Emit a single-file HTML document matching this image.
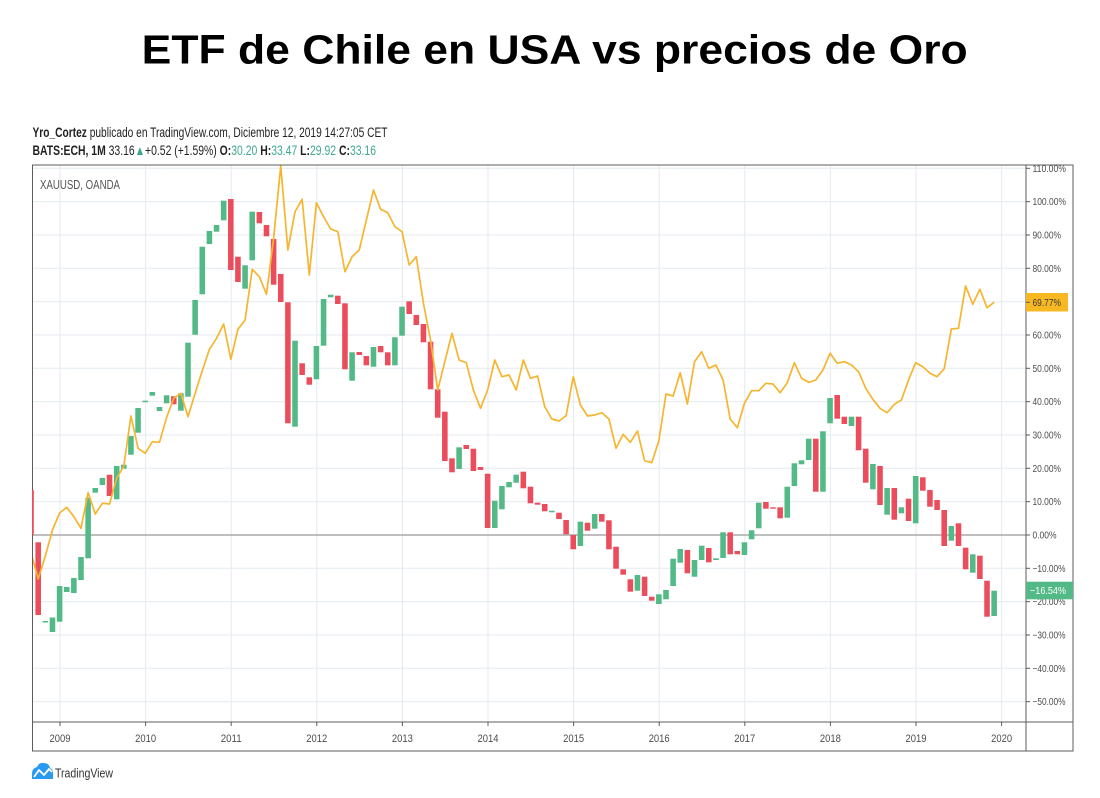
<!DOCTYPE html>
<html>
<head>
<meta charset="utf-8">
<style>
html,body{margin:0;padding:0;background:#fff;}
svg{display:block;}
</style>
</head>
<body>
<svg width="1100" height="798" viewBox="0 0 1100 798" xmlns="http://www.w3.org/2000/svg">
<defs>
<clipPath id="plot"><rect x="32.5" y="165" width="993.5" height="557"/></clipPath>
<clipPath id="axis"><rect x="1026" y="165" width="47" height="557"/></clipPath>
</defs>
<rect width="1100" height="798" fill="#fff"/>

<!-- Title -->
<text x="141.7" y="63.3" font-family="Liberation Sans, sans-serif" font-weight="bold" font-size="41" fill="#000" textLength="826" lengthAdjust="spacingAndGlyphs">ETF de Chile en USA vs precios de Oro</text>

<!-- Header -->
<text x="32.5" y="137" font-family="Liberation Sans, sans-serif" font-size="13.5" fill="#222" textLength="355" lengthAdjust="spacingAndGlyphs"><tspan font-weight="bold">Yro_Cortez</tspan> publicado en TradingView.com, Diciembre 12, 2019 14:27:05 CET</text>
<text x="32.5" y="155" font-family="Liberation Sans, DejaVu Sans, sans-serif" font-size="13.5" fill="#222" textLength="343.5" lengthAdjust="spacingAndGlyphs"><tspan font-weight="bold">BATS:ECH, 1M</tspan> 33.16<tspan fill="#3fa98f">▲</tspan>+0.52 (+1.59%) <tspan font-weight="bold">O:</tspan><tspan fill="#3fa98f">30.20</tspan> <tspan font-weight="bold">H:</tspan><tspan fill="#3fa98f">33.47</tspan> <tspan font-weight="bold">L:</tspan><tspan fill="#3fa98f">29.92</tspan> <tspan font-weight="bold">C:</tspan><tspan fill="#3fa98f">33.16</tspan></text>

<!-- Grid -->
<g stroke="#e4eaef" stroke-width="1">
<line x1="32.5" x2="1026" y1="168.3" y2="168.3"/>
<line x1="32.5" x2="1026" y1="201.7" y2="201.7"/>
<line x1="32.5" x2="1026" y1="235" y2="235"/>
<line x1="32.5" x2="1026" y1="268.3" y2="268.3"/>
<line x1="32.5" x2="1026" y1="301.7" y2="301.7"/>
<line x1="32.5" x2="1026" y1="335" y2="335"/>
<line x1="32.5" x2="1026" y1="368.3" y2="368.3"/>
<line x1="32.5" x2="1026" y1="401.7" y2="401.7"/>
<line x1="32.5" x2="1026" y1="435" y2="435"/>
<line x1="32.5" x2="1026" y1="468.3" y2="468.3"/>
<line x1="32.5" x2="1026" y1="501.7" y2="501.7"/>
<line x1="32.5" x2="1026" y1="568.3" y2="568.3"/>
<line x1="32.5" x2="1026" y1="601.7" y2="601.7"/>
<line x1="32.5" x2="1026" y1="635" y2="635"/>
<line x1="32.5" x2="1026" y1="668.3" y2="668.3"/>
<line x1="32.5" x2="1026" y1="701.7" y2="701.7"/>
<line x1="60" x2="60" y1="165" y2="722"/>
<line x1="145.6" x2="145.6" y1="165" y2="722"/>
<line x1="231.2" x2="231.2" y1="165" y2="722"/>
<line x1="316.8" x2="316.8" y1="165" y2="722"/>
<line x1="402.4" x2="402.4" y1="165" y2="722"/>
<line x1="488" x2="488" y1="165" y2="722"/>
<line x1="573.6" x2="573.6" y1="165" y2="722"/>
<line x1="659.2" x2="659.2" y1="165" y2="722"/>
<line x1="744.8" x2="744.8" y1="165" y2="722"/>
<line x1="830.4" x2="830.4" y1="165" y2="722"/>
<line x1="916" x2="916" y1="165" y2="722"/>
<line x1="1001.6" x2="1001.6" y1="165" y2="722"/>
</g>
<line x1="32.5" x2="1026" y1="535" y2="535" stroke="#a9a9a9" stroke-width="1.5"/>

<text x="40" y="189" font-family="Liberation Sans, sans-serif" font-size="12.5" fill="#555" textLength="80" lengthAdjust="spacingAndGlyphs">XAUUSD, OANDA</text>

<!-- Series -->
<g clip-path="url(#plot)">
<g transform="translate(59.6,0) scale(7.134,1)">
<g fill="#eb4d5c">
<rect x="-3.39" y="542.3" width="0.78" height="72.7"/>
<rect x="6.61" y="474.7" width="0.78" height="21.3"/>
<rect x="15.61" y="396.3" width="0.78" height="8"/>
<rect x="23.61" y="199" width="0.78" height="71"/>
<rect x="24.61" y="256.7" width="0.78" height="25.3"/>
<rect x="27.61" y="212" width="0.78" height="11.3"/>
<rect x="28.61" y="225" width="0.78" height="11.3"/>
<rect x="29.61" y="239" width="0.78" height="45.7"/>
<rect x="30.61" y="274" width="0.78" height="28"/>
<rect x="31.61" y="302.3" width="0.78" height="121"/>
<rect x="33.61" y="363.3" width="0.78" height="11.7"/>
<rect x="34.61" y="377.3" width="0.78" height="7.4"/>
<rect x="38.61" y="295.7" width="0.78" height="8.3"/>
<rect x="39.61" y="303.3" width="0.78" height="66"/>
<rect x="41.61" y="352" width="0.78" height="3"/>
<rect x="42.61" y="356" width="0.78" height="9.3"/>
<rect x="44.61" y="346" width="0.78" height="6.3"/>
<rect x="45.61" y="352.3" width="0.78" height="13"/>
<rect x="48.61" y="301.3" width="0.78" height="12.7"/>
<rect x="49.61" y="315" width="0.78" height="10"/>
<rect x="50.61" y="324" width="0.78" height="18.3"/>
<rect x="51.61" y="341.7" width="0.78" height="47.6"/>
<rect x="52.61" y="389.3" width="0.78" height="28.4"/>
<rect x="53.61" y="411.7" width="0.78" height="49.3"/>
<rect x="54.61" y="458.3" width="0.78" height="14"/>
<rect x="56.61" y="445" width="0.78" height="4"/>
<rect x="57.61" y="448.7" width="0.78" height="22.3"/>
<rect x="58.61" y="467" width="0.78" height="3"/>
<rect x="59.61" y="473.7" width="0.78" height="54.3"/>
<rect x="64.61" y="471.7" width="0.78" height="16.6"/>
<rect x="65.61" y="486.7" width="0.78" height="16.6"/>
<rect x="66.61" y="502.7" width="0.78" height="2"/>
<rect x="67.61" y="504" width="0.78" height="7.3"/>
<rect x="69.61" y="512.7" width="0.78" height="6.3"/>
<rect x="70.61" y="520" width="0.78" height="14.3"/>
<rect x="71.61" y="535" width="0.78" height="14.3"/>
<rect x="73.61" y="522.7" width="0.78" height="8"/>
<rect x="75.61" y="514" width="0.78" height="7.7"/>
<rect x="76.61" y="520.3" width="0.78" height="29"/>
<rect x="77.61" y="546.7" width="0.78" height="22"/>
<rect x="78.61" y="569.3" width="0.78" height="5.4"/>
<rect x="79.61" y="579.3" width="0.78" height="12.4"/>
<rect x="81.61" y="576.7" width="0.78" height="19.3"/>
<rect x="82.61" y="596.7" width="0.78" height="4"/>
<rect x="87.61" y="550" width="0.78" height="23.3"/>
<rect x="90.61" y="548" width="0.78" height="14.3"/>
<rect x="93.61" y="532.3" width="0.78" height="22"/>
<rect x="94.61" y="551" width="0.78" height="3.3"/>
<rect x="98.61" y="502" width="0.78" height="6.7"/>
<rect x="99.61" y="507.3" width="0.78" height="1.4"/>
<rect x="100.61" y="507.3" width="0.78" height="11"/>
<rect x="105.61" y="438.7" width="0.78" height="53"/>
<rect x="108.61" y="395" width="0.78" height="23.7"/>
<rect x="109.61" y="416.7" width="0.78" height="7.3"/>
<rect x="111.61" y="416.7" width="0.78" height="33.6"/>
<rect x="112.61" y="448.7" width="0.78" height="34"/>
<rect x="114.61" y="466" width="0.78" height="39"/>
<rect x="116.61" y="488" width="0.78" height="31.7"/>
<rect x="118.61" y="498.7" width="0.78" height="22.3"/>
<rect x="120.61" y="477.3" width="0.78" height="13.4"/>
<rect x="121.61" y="490" width="0.78" height="16.7"/>
<rect x="122.61" y="500" width="0.78" height="10"/>
<rect x="123.61" y="510" width="0.78" height="36"/>
<rect x="125.61" y="523.3" width="0.78" height="22.7"/>
<rect x="126.61" y="547.7" width="0.78" height="21.6"/>
<rect x="128.61" y="555.7" width="0.78" height="23.3"/>
<rect x="129.61" y="580.7" width="0.78" height="36"/>
</g>
<g fill="#53b987">
<rect x="-2.39" y="621" width="0.78" height="1.5"/>
<rect x="-1.39" y="617.5" width="0.78" height="14.5"/>
<rect x="-0.39" y="586" width="0.78" height="35.7"/>
<rect x="0.61" y="587" width="0.78" height="5"/>
<rect x="1.61" y="578" width="0.78" height="15"/>
<rect x="2.61" y="557" width="0.78" height="23"/>
<rect x="3.61" y="497.7" width="0.78" height="60.6"/>
<rect x="4.61" y="488" width="0.78" height="4.7"/>
<rect x="5.61" y="478" width="0.78" height="7"/>
<rect x="7.61" y="466" width="0.78" height="33.3"/>
<rect x="8.61" y="464.7" width="0.78" height="4"/>
<rect x="9.61" y="436" width="0.78" height="18.7"/>
<rect x="10.61" y="408" width="0.78" height="24.7"/>
<rect x="11.61" y="400.7" width="0.78" height="1.5"/>
<rect x="12.61" y="392" width="0.78" height="3.7"/>
<rect x="13.61" y="407" width="0.78" height="4"/>
<rect x="14.61" y="395.3" width="0.78" height="8"/>
<rect x="16.61" y="393.3" width="0.78" height="17.4"/>
<rect x="17.61" y="342.7" width="0.78" height="54"/>
<rect x="18.61" y="300" width="0.78" height="34.7"/>
<rect x="19.61" y="246.7" width="0.78" height="47.6"/>
<rect x="20.61" y="231" width="0.78" height="13"/>
<rect x="21.61" y="225" width="0.78" height="6.7"/>
<rect x="22.61" y="200.7" width="0.78" height="19.6"/>
<rect x="25.61" y="265.3" width="0.78" height="23.4"/>
<rect x="26.61" y="211.7" width="0.78" height="48.6"/>
<rect x="32.61" y="340.7" width="0.78" height="86"/>
<rect x="35.61" y="346" width="0.78" height="33.3"/>
<rect x="36.61" y="299" width="0.78" height="46.7"/>
<rect x="37.61" y="294.7" width="0.78" height="2.6"/>
<rect x="40.61" y="352.3" width="0.78" height="28.4"/>
<rect x="43.61" y="347" width="0.78" height="19.7"/>
<rect x="46.61" y="337.3" width="0.78" height="28"/>
<rect x="47.61" y="306.7" width="0.78" height="29"/>
<rect x="55.61" y="447.3" width="0.78" height="21.7"/>
<rect x="60.61" y="500.7" width="0.78" height="27.3"/>
<rect x="61.61" y="486" width="0.78" height="23.3"/>
<rect x="62.61" y="482" width="0.78" height="5.3"/>
<rect x="63.61" y="474.7" width="0.78" height="8"/>
<rect x="68.61" y="510.7" width="0.78" height="1.6"/>
<rect x="72.61" y="521.7" width="0.78" height="24.3"/>
<rect x="74.61" y="514" width="0.78" height="14.7"/>
<rect x="80.61" y="575" width="0.78" height="15.7"/>
<rect x="83.61" y="594.3" width="0.78" height="9.7"/>
<rect x="84.61" y="590" width="0.78" height="9.3"/>
<rect x="85.61" y="558.7" width="0.78" height="27.3"/>
<rect x="86.61" y="549" width="0.78" height="13.7"/>
<rect x="88.61" y="560" width="0.78" height="16.7"/>
<rect x="89.61" y="545.7" width="0.78" height="14.3"/>
<rect x="91.61" y="558.3" width="0.78" height="1.7"/>
<rect x="92.61" y="532.3" width="0.78" height="25.7"/>
<rect x="95.61" y="542.3" width="0.78" height="12.7"/>
<rect x="96.61" y="530.3" width="0.78" height="9"/>
<rect x="97.61" y="502.7" width="0.78" height="25.6"/>
<rect x="101.61" y="486.7" width="0.78" height="31"/>
<rect x="102.61" y="463.3" width="0.78" height="22.7"/>
<rect x="103.61" y="460.3" width="0.78" height="4"/>
<rect x="104.61" y="438.7" width="0.78" height="21.3"/>
<rect x="106.61" y="431.3" width="0.78" height="60.4"/>
<rect x="107.61" y="398" width="0.78" height="25.3"/>
<rect x="110.61" y="416.7" width="0.78" height="9.3"/>
<rect x="113.61" y="464" width="0.78" height="25.3"/>
<rect x="115.61" y="488" width="0.78" height="26.7"/>
<rect x="117.61" y="507.3" width="0.78" height="6"/>
<rect x="119.61" y="476" width="0.78" height="47.3"/>
<rect x="124.61" y="526" width="0.78" height="14.7"/>
<rect x="127.61" y="554.3" width="0.78" height="18.4"/>
<rect x="130.61" y="590.7" width="0.78" height="25.3"/>
</g>
<polyline fill="none" stroke="#f6b530" stroke-width="1.7" stroke-linejoin="round" vector-effect="non-scaling-stroke" points="-4,553 -3,579 -2,556 -1,530 0,513 1,507.3 2,516.7 3,528.3 4,492.5 5,514 6,503.3 7,504 8,478.3 9,466 10,416 11,448.3 12,453.3 13,441.7 14,442.3 15,417.3 16,398.3 17,393.3 18,416.7 19,393.3 20,370.7 21,349.3 22,338.3 23,324 24,359.3 25,329.3 26,320 27,269.3 28,276.7 29,294.3 30,238 31,166 32,250 33,211.7 34,199.3 35,275 36,202.7 37,216.7 38,229 39,231.7 40,271.7 41,256.7 42,250 43,220 44,190 45,209.3 46,212.7 47,226.7 48,231.7 49,265 50,256.7 51,303.3 52,340 53,390 54,361.7 55,333.3 56,360 57,362.7 58,390 59,408.3 60,390 61,360 62,376.7 63,375 64,390 65,360 66,378.3 67,376 68,406.7 69,419 70,421 71,415.7 72,376.7 73,405 74,416 75,415 76,412.7 77,419 78,448.3 79,434.3 80,442.3 81,431 82,460.7 83,462.7 84,440.7 85,394 86,396 87,372.7 88,404 89,361.7 90,351.7 91,368.3 92,365 93,380 94,419 95,427.7 96,403.3 97,390.7 98,390.7 99,383.3 100,384 101,392.7 102,382.7 103,362.7 104,378.3 105,382.3 106,380 107,370 108,353.3 109,363.3 110,361.7 111,365 112,371.7 113,388.3 114,399.3 115,408.3 116,412.7 117,404.3 118,400 119,380 120,362.7 121,366.7 122,373.3 123,376.7 124,368.7 125,329 126,328.3 127,286 128,304.3 129,289.3 130,307.7 131,302.3"/>
</g>
</g>

<!-- Frame -->
<g stroke="#5c5c5c" stroke-width="1" fill="none">
<rect x="32.5" y="165" width="1040.5" height="586"/>
<line x1="1026" x2="1026" y1="165" y2="751"/>
<line x1="32.5" x2="1073" y1="722" y2="722"/>
</g>
<!-- partial first candle over left edge -->
<rect x="32" y="490" width="1.8" height="45" fill="#eb4d5c"/>

<!-- Price axis ticks & labels -->
<g clip-path="url(#axis)">
<g stroke="#5c5c5c" stroke-width="1">
<line x1="1026" x2="1030" y1="168.3" y2="168.3"/>
<line x1="1026" x2="1030" y1="201.7" y2="201.7"/>
<line x1="1026" x2="1030" y1="235" y2="235"/>
<line x1="1026" x2="1030" y1="268.3" y2="268.3"/>
<line x1="1026" x2="1030" y1="301.7" y2="301.7"/>
<line x1="1026" x2="1030" y1="335" y2="335"/>
<line x1="1026" x2="1030" y1="368.3" y2="368.3"/>
<line x1="1026" x2="1030" y1="401.7" y2="401.7"/>
<line x1="1026" x2="1030" y1="435" y2="435"/>
<line x1="1026" x2="1030" y1="468.3" y2="468.3"/>
<line x1="1026" x2="1030" y1="501.7" y2="501.7"/>
<line x1="1026" x2="1030" y1="535" y2="535"/>
<line x1="1026" x2="1030" y1="568.3" y2="568.3"/>
<line x1="1026" x2="1030" y1="601.7" y2="601.7"/>
<line x1="1026" x2="1030" y1="635" y2="635"/>
<line x1="1026" x2="1030" y1="668.3" y2="668.3"/>
<line x1="1026" x2="1030" y1="701.7" y2="701.7"/>
</g>
<g font-family="Liberation Sans, sans-serif" font-size="10" fill="#4d4d4d">
<text x="1032.5" y="171.8" textLength="33.5" lengthAdjust="spacingAndGlyphs">110.00%</text>
<text x="1032.5" y="205.2" textLength="33.5" lengthAdjust="spacingAndGlyphs">100.00%</text>
<text x="1032.5" y="238.5" textLength="28.5" lengthAdjust="spacingAndGlyphs">90.00%</text>
<text x="1032.5" y="271.8" textLength="28.5" lengthAdjust="spacingAndGlyphs">80.00%</text>
<text x="1032.5" y="338.5" textLength="28.5" lengthAdjust="spacingAndGlyphs">60.00%</text>
<text x="1032.5" y="371.8" textLength="28.5" lengthAdjust="spacingAndGlyphs">50.00%</text>
<text x="1032.5" y="405.2" textLength="28.5" lengthAdjust="spacingAndGlyphs">40.00%</text>
<text x="1032.5" y="438.5" textLength="28.5" lengthAdjust="spacingAndGlyphs">30.00%</text>
<text x="1032.5" y="471.8" textLength="28.5" lengthAdjust="spacingAndGlyphs">20.00%</text>
<text x="1032.5" y="505.2" textLength="28.5" lengthAdjust="spacingAndGlyphs">10.00%</text>
<text x="1032.5" y="538.5" textLength="24" lengthAdjust="spacingAndGlyphs">0.00%</text>
<text x="1032.5" y="571.8" textLength="33" lengthAdjust="spacingAndGlyphs">−10.00%</text>
<text x="1032.5" y="605.2" textLength="33" lengthAdjust="spacingAndGlyphs">−20.00%</text>
<text x="1032.5" y="638.5" textLength="33" lengthAdjust="spacingAndGlyphs">−30.00%</text>
<text x="1032.5" y="671.8" textLength="33" lengthAdjust="spacingAndGlyphs">−40.00%</text>
<text x="1032.5" y="705.2" textLength="33" lengthAdjust="spacingAndGlyphs">−50.00%</text>
</g>
</g>

<!-- Last value labels -->
<rect x="1026" y="293" width="42" height="18.5" fill="#f8b824"/>
<line x1="1026" x2="1030" y1="302.3" y2="302.3" stroke="#5c5c5c"/>
<text x="1032.5" y="305.8" font-family="Liberation Sans, sans-serif" font-size="10" fill="#3a3a3a" textLength="28.5" lengthAdjust="spacingAndGlyphs">69.77%</text>
<rect x="1026" y="581.7" width="47" height="17.6" fill="#53b987"/>
<text x="1030" y="594.2" font-family="Liberation Sans, sans-serif" font-size="10" fill="#fff" textLength="36" lengthAdjust="spacingAndGlyphs">−16.54%</text>

<!-- Time axis -->
<g stroke="#5c5c5c" stroke-width="1">
<line x1="60" x2="60" y1="722" y2="726"/>
<line x1="145.6" x2="145.6" y1="722" y2="726"/>
<line x1="231.2" x2="231.2" y1="722" y2="726"/>
<line x1="316.8" x2="316.8" y1="722" y2="726"/>
<line x1="402.4" x2="402.4" y1="722" y2="726"/>
<line x1="488" x2="488" y1="722" y2="726"/>
<line x1="573.6" x2="573.6" y1="722" y2="726"/>
<line x1="659.2" x2="659.2" y1="722" y2="726"/>
<line x1="744.8" x2="744.8" y1="722" y2="726"/>
<line x1="830.4" x2="830.4" y1="722" y2="726"/>
<line x1="916" x2="916" y1="722" y2="726"/>
<line x1="1001.6" x2="1001.6" y1="722" y2="726"/>
</g>
<g font-family="Liberation Sans, sans-serif" font-size="11" fill="#4d4d4d">
<text x="49.5" y="742" textLength="21" lengthAdjust="spacingAndGlyphs">2009</text>
<text x="135.1" y="742" textLength="21" lengthAdjust="spacingAndGlyphs">2010</text>
<text x="220.7" y="742" textLength="21" lengthAdjust="spacingAndGlyphs">2011</text>
<text x="306.3" y="742" textLength="21" lengthAdjust="spacingAndGlyphs">2012</text>
<text x="391.9" y="742" textLength="21" lengthAdjust="spacingAndGlyphs">2013</text>
<text x="477.5" y="742" textLength="21" lengthAdjust="spacingAndGlyphs">2014</text>
<text x="563.1" y="742" textLength="21" lengthAdjust="spacingAndGlyphs">2015</text>
<text x="648.7" y="742" textLength="21" lengthAdjust="spacingAndGlyphs">2016</text>
<text x="734.3" y="742" textLength="21" lengthAdjust="spacingAndGlyphs">2017</text>
<text x="819.9" y="742" textLength="21" lengthAdjust="spacingAndGlyphs">2018</text>
<text x="905.5" y="742" textLength="21" lengthAdjust="spacingAndGlyphs">2019</text>
<text x="991.1" y="742" textLength="21" lengthAdjust="spacingAndGlyphs">2020</text>
</g>

<!-- TradingView logo -->
<path d="M32,779 L32,774 Q32,768 37,767 Q39,762 44,763 Q49,763 50,768 Q53,769 53,773 L53,779 Z" fill="#2a9af0"/>
<polyline points="34,777 39,770 44,775 49,769 52,772" fill="none" stroke="#fff" stroke-width="1.8" stroke-linejoin="round"/>
<text x="55" y="777.5" font-family="Liberation Sans, sans-serif" font-size="13" fill="#333" textLength="58" lengthAdjust="spacingAndGlyphs">TradingView</text>
</svg>
</body>
</html>
